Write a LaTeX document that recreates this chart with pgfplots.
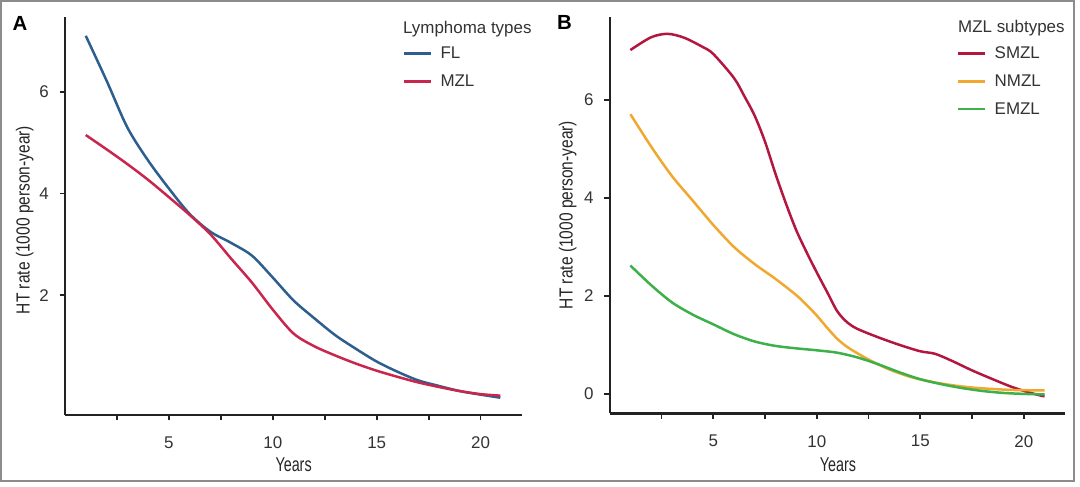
\documentclass[border=0pt]{standalone}
\usepackage{fontspec}
\setmainfont{Liberation Sans}
\newfontfamily\condfont[FakeStretch=0.82]{Liberation Sans}
\newfontfamily\condfontb[FakeStretch=0.72]{Liberation Sans}
\usepackage{pgfplots}
\pgfplotsset{compat=1.18}
\definecolor{flblue}{HTML}{2C5F8D}
\definecolor{mzlred}{HTML}{C8264C}
\definecolor{smzl}{HTML}{B3173F}
\definecolor{nmzl}{HTML}{F0A830}
\definecolor{emzl}{HTML}{3DB04A}
\definecolor{txt}{HTML}{333333}
\definecolor{axcol}{HTML}{222222}
\definecolor{framegray}{HTML}{8C8C8C}

\pgfplotstableread{
x y
1.0 7.10
2.0 6.22
3.0 5.30
4.0 4.65
5.0 4.10
6.0 3.60
7.0 3.25
8.0 3.03
9.0 2.78
10.0 2.35
11.0 1.90
12.0 1.55
13.0 1.22
14.0 0.95
15.0 0.70
16.0 0.50
17.0 0.33
18.0 0.22
19.0 0.12
20.0 0.05
20.95 -0.01
}\FLdata

\pgfplotstableread{
x y
1.0 5.15
2.0 4.87
3.0 4.58
4.0 4.27
5.0 3.93
6.0 3.58
7.0 3.20
8.0 2.72
9.0 2.25
10.0 1.72
11.0 1.25
12.0 1.00
13.0 0.82
14.0 0.66
15.0 0.52
16.0 0.40
17.0 0.29
18.0 0.20
19.0 0.12
20.0 0.06
20.95 0.03
}\MZLdata

\pgfplotstableread{
x y
1.0 7.02
2.0 7.28
2.8 7.35
3.6 7.27
4.5 7.08
5.0 6.94
6.0 6.45
6.5 6.08
7.0 5.68
7.5 5.15
8.0 4.50
8.5 3.90
9.0 3.35
9.5 2.90
10.0 2.48
10.5 2.08
11.0 1.68
11.5 1.45
12.0 1.32
13.0 1.15
14.0 1.00
15.0 0.87
15.7 0.82
16.5 0.68
17.5 0.48
18.5 0.30
19.5 0.13
20.5 0.00
21.0 -0.05
}\SMZLdata

\pgfplotstableread{
x y
1.0 5.71
2.0 5.05
3.0 4.45
4.0 3.95
5.0 3.45
6.0 3.00
7.0 2.65
8.0 2.35
9.0 2.02
9.5 1.82
10.0 1.60
10.5 1.35
11.0 1.12
11.5 0.95
12.0 0.82
12.6 0.68
13.5 0.50
14.5 0.35
15.5 0.25
16.5 0.18
17.5 0.13
18.5 0.10
19.5 0.08
21.0 0.07
}\NMZLdata

\pgfplotstableread{
x y
1.0 2.62
2.0 2.22
3.0 1.87
4.0 1.62
5.0 1.42
6.0 1.22
7.0 1.07
8.0 0.98
9.0 0.93
10.0 0.89
11.0 0.84
12.0 0.74
13.0 0.60
14.0 0.44
15.0 0.30
16.0 0.20
17.0 0.12
18.0 0.06
19.0 0.02
20.0 0.00
21.0 -0.01
}\EMZLdata

\pgfplotsset{
  panel/.style={
    scale only axis,
    anchor=south west,
    axis lines=left,
    axis line style={-, line width=2.2bp, color=axcol},
    tick style={line width=1.8bp, color=axcol},
    tick align=outside,
    major tick length=5.5bp,
    xtick={2.5,5,7.5,10,12.5,15,17.5,20},
    xticklabels={,5,,10,,15,,20},
    /pgf/number format/assume math mode=true,
    ticklabel style={font=\fontsize{17}{18}\selectfont, text=txt},
    xticklabel style={anchor=north, inner sep=0pt, yshift=-16bp},
    yticklabel style={anchor=east, inner sep=0pt, xshift=-10.5bp},
    legend cell align=left,
    legend image code/.code={\draw[##1, line width=2.5bp] (0bp,0bp) -- (27bp,0bp);},
    legend style={draw=none, fill=none, anchor=north west, inner sep=0pt,
      font=\fontsize{17}{20}\selectfont, text=txt,
      row sep=14.5bp, column sep=8bp, nodes={inner sep=0pt}},
    every axis plot/.append style={line width=2.5bp, smooth, tension=0.5, no markers},
    clip=false,
  }
}

\begin{document}
\begin{tikzpicture}[x=1bp,y=1bp]
\useasboundingbox (0,0) rectangle (1080,487);
\fill[white] (0,0) rectangle (1080,487);
\draw[framegray, line width=1.6bp] (1,6) rectangle (1074,486);

% Panel A
\begin{axis}[panel, at={(65bp,72bp)}, width=456.5bp, height=398bp,
  xmin=0, xmax=21.97, ymin=-0.35, ymax=7.47, ytick={2,4,6},
  legend style={at={(0.740,0.925)}}]
\addplot[flblue] table[x=x,y=y] {\FLdata};
\addlegendentry{FL}
\addplot[mzlred] table[x=x,y=y] {\MZLdata};
\addlegendentry{MZL}
\end{axis}

% Panel B
\begin{axis}[panel, at={(609.7bp,73.5bp)}, width=455.5bp, height=396.8bp,
  xmin=0, xmax=22.0, ymin=-0.40, ymax=7.70, ytick={0,2,4,6},
  legend style={at={(0.7625,0.924)}}]
\addplot[smzl] table[x=x,y=y] {\SMZLdata};
\addlegendentry{SMZL}
\addplot[nmzl] table[x=x,y=y] {\NMZLdata};
\addlegendentry{NMZL}
\addplot[emzl] table[x=x,y=y] {\EMZLdata};
\addlegendentry{EMZL}
\end{axis}

% Titles and labels
\node[anchor=base west, inner sep=0pt, text=txt, font=\fontsize{17}{20}\selectfont] at (403,453.5) {Lymphoma types};
\node[anchor=base west, inner sep=0pt, text=txt, font=\fontsize{17}{20}\selectfont] at (958,454.5) {MZL subtypes};
\node[anchor=base west, inner sep=0pt, font=\fontsize{20.5}{22}\selectfont\bfseries] at (12.5,456.3) {A};
\node[anchor=base west, inner sep=0pt, font=\fontsize{20.5}{22}\selectfont\bfseries] at (557,457) {B};
\node[anchor=base, rotate=90, inner sep=0pt, text=black!85, font=\fontsize{19}{22}\selectfont\condfont] at (29.5,267) {HT rate (1000 person-year)};
\node[anchor=base, rotate=90, inner sep=0pt, text=black!85, font=\fontsize{19}{22}\selectfont\condfont] at (572.5,272) {HT rate (1000 person-year)};
\node[anchor=base, inner sep=0pt, text=black!85, font=\fontsize{20}{22}\selectfont\condfontb] at (293.6,15.3) {Years};
\node[anchor=base, inner sep=0pt, text=black!85, font=\fontsize{20}{22}\selectfont\condfontb] at (838,15.3) {Years};
\end{tikzpicture}
\end{document}
